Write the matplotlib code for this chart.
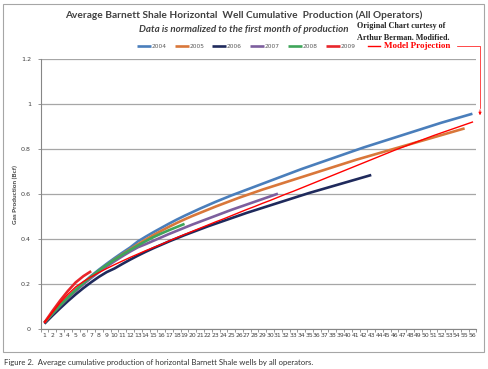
import matplotlib
matplotlib.use("Agg")
import matplotlib.pyplot as plt
from matplotlib.lines import Line2D
from matplotlib.patches import Rectangle
import numpy as np

# data (cumulative Bcf by producing month)
months = np.arange(1, 57)
y2004 = [.03, .07, .107, .142, .175, .207, .237, .265, .291, .316, .34, .363, .39, .411,
         .431, .45, .469, .487, .504, .52, .536, .551, .566, .58, .594, .607, .62, .633,
         .646, .659, .672, .685, .698, .711, .723, .735, .747, .759, .771, .783, .795, .807,
         .818, .829, .84, .851, .862, .873, .884, .895, .906, .917, .927, .937, .947, .957]
y2005 = [.03, .068, .105, .14, .172, .203, .232, .259, .285, .31, .333, .355, .377, .398,
         .418, .437, .455, .472, .488, .503, .517, .531, .545, .558, .571, .584, .596, .608,
         .62, .631, .642, .653, .664, .675, .686, .697, .708, .719, .73, .741, .752, .762,
         .772, .782, .792, .802, .812, .822, .832, .842, .852, .862, .872, .882, .892]
y2006 = [.025, .06, .093, .125, .155, .183, .209, .233, .254, .27, .29, .309, .327, .344,
         .36, .375, .39, .404, .418, .431, .444, .457, .469, .481, .493, .505, .517, .528,
         .539, .55, .561, .572, .583, .594, .605, .615, .625, .635, .645, .655, .665, .675, .685]
y2007 = [.03, .068, .104, .138, .17, .2, .228, .254, .279, .302, .324, .345, .364, .378,
         .393, .408, .423, .437, .451, .465, .478, .491, .504, .517, .53, .542, .554, .566,
         .578, .59, .602]
y2008 = [.03, .069, .106, .141, .174, .205, .234, .261, .286, .309, .331, .352, .372, .391,
         .409, .425, .44, .454, .468]
y2009 = [.03, .08, .127, .17, .208, .236, .258]
model = [.03, .074, .118, .155, .188, .212, .233, .252, .27, .287, .303, .319, .334, .349,
         .363, .377, .392, .407, .421, .435, .449, .463, .477, .49, .504, .518, .532, .545,
         .559, .572, .586, .60, .613, .627, .641, .655, .669, .683, .697, .711, .725, .739,
         .753, .767, .781, .795, .808, .821, .834, .847, .86, .872, .884, .896, .908, .92]

series = [("2004", y2004, "#4a7ebb"), ("2005", y2005, "#d9773a"), ("2006", y2006, "#1f2a5c"),
          ("2007", y2007, "#7d5f9e"), ("2008", y2008, "#3fa55a"), ("2009", y2009, "#e8262b")]

W, H = 489, 369
fig = plt.figure(figsize=(W / 100, H / 100), dpi=100)
ax = fig.add_axes([40.6 / W, (H - 329.3) / H, 435.7 / W, 270.3 / H])

for name, vals, col in series:
    ax.plot(months[:len(vals)], vals, color=col, lw=1.9, label=name, solid_capstyle="butt")
ax.plot(months, model, color="#ff0000", lw=1.0)

ax.set_xlim(0.5, 56.5)
ax.set_ylim(0, 1.2)
ax.set_yticks([0, 0.2, 0.4, 0.6, 0.8, 1, 1.2])
ax.set_yticklabels(["0", "0.2", "0.4", "0.6", "0.8", "1", "1.2"])
ax.set_xticks(months)
ax.set_xticklabels([str(m) for m in months])
ax.set_xticks(np.arange(0.5, 57), minor=True)
ax.tick_params(axis="x", which="major", length=0, labelsize=4.4, colors="#404040", pad=3)
ax.tick_params(axis="x", which="minor", length=2, color="#868686", width=0.6)
ax.tick_params(axis="y", length=2, color="#868686", width=0.6, labelsize=4.6,
               labelcolor="#404040", pad=5)
ax.grid(axis="y", color="#a6a6a6", lw=0.9)
ax.set_axisbelow(True)
for s in ["top", "right"]:
    ax.spines[s].set_visible(False)
for s in ["left", "bottom"]:
    ax.spines[s].set_color("#868686")
    ax.spines[s].set_linewidth(0.8)
ax.set_ylabel("Gas Production (Bcf)", fontsize=4.6, fontweight="bold", color="#404040",
              fontfamily="Lato")
ax.yaxis.set_label_coords(-0.052, 0.5)

# titles
fig.text(244 / W, 1 - 15 / H, "Average Barnett Shale Horizontal  Well Cumulative  Production (All Operators)",
         ha="center", va="center", fontsize=7.3, fontweight="bold", color="#404040", fontfamily="Lato")
fig.text(244 / W, 1 - 29 / H, "Data is normalized to the first month of production",
         ha="center", va="center", fontsize=7.0, fontweight="bold", style="italic",
         color="#404040", fontfamily="Lato")
fig.text(357 / W, 1 - 26 / H, "Original Chart curtesy of", ha="left", va="center",
         fontsize=5.9, fontweight="bold", fontfamily="Liberation Serif", color="#222222")
fig.text(357 / W, 1 - 38 / H, "Arthur Berman. Modified.", ha="left", va="center",
         fontsize=5.9, fontweight="bold", fontfamily="Liberation Serif", color="#222222")

# legend
leg = fig.legend(loc="center", bbox_to_anchor=(246 / W, 1 - 46 / H), ncol=6, frameon=False,
                 fontsize=4.2, handlelength=2.4, columnspacing=1.4, handletextpad=0.1)
for t in leg.get_texts():
    t.set_color("#595959")

# model projection annotation
fig.add_artist(Line2D([368 / W, 380 / W], [1 - 46 / H, 1 - 46 / H], color="#ff0000", lw=1.0))
fig.text(384 / W, 1 - 46 / H, "Model Projection", ha="left", va="center", fontsize=6.5,
         fontweight="bold", fontfamily="Liberation Serif", color="#ff0000")
fig.add_artist(Line2D([457 / W, 480 / W, 480 / W], [1 - 46 / H, 1 - 46 / H, 1 - 108 / H],
                      color="#ff0000", lw=0.5))
ax.annotate("", xy=(480 / W, 1 - 118 / H), xytext=(480 / W, 1 - 107 / H),
            xycoords="figure fraction", textcoords="figure fraction",
            arrowprops=dict(arrowstyle="-|>", color="#ff0000", lw=0.6, mutation_scale=4))

# outer frame and caption
fig.add_artist(Rectangle((3 / W, 1 - 352 / H), 481 / W, 348 / H, transform=fig.transFigure,
                         fill=False, edgecolor="#a6a6a6", lw=0.8))
fig.text(4 / W, 1 - 362 / H,
         "Figure 2.  Average cumulative production of horizontal Barnett Shale wells by all operators.",
         ha="left", va="center", fontsize=5.6, color="#333333", fontfamily="Lato")

fig.savefig("out.png", dpi=100)
